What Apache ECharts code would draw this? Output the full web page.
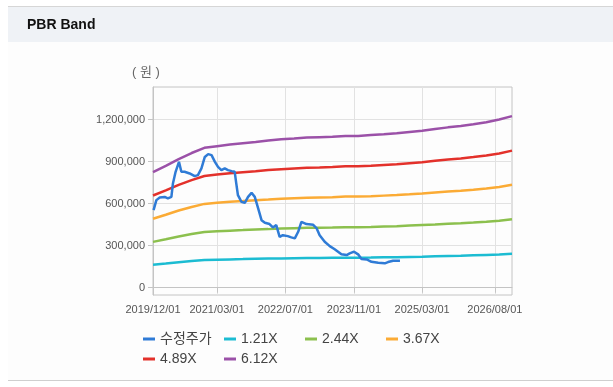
<!DOCTYPE html>
<html><head><meta charset="utf-8">
<script src="https://cdn.jsdelivr.net/npm/echarts@6/dist/echarts.min.js"></script>
<style>
html,body{margin:0;padding:0;background:#fff;width:613px;height:387px;overflow:hidden;}
#panel{position:absolute;left:8px;top:6px;width:605px;height:373px;border-top:1px solid #d6d6d6;border-bottom:1px solid #cfcfcf;background:#fdfdfd;}
#head{position:absolute;left:8px;top:7px;width:605px;height:35px;background:#eff2f6;}
#chart{position:absolute;left:0;top:0;width:613px;height:387px;}
</style></head>
<body>
<div id="panel"></div><div id="head"></div>
<div id="chart"></div>
<script>
const seriesNames = ['수정주가','1.21X','2.44X','3.67X','4.89X','6.12X'];
const xTickLabels = ['2019/12/01','2021/03/01','2022/07/01','2023/11/01','2025/03/01','2026/08/01'];
const yTickValues = [0,300000,600000,900000,1200000];

const bandDates = ['2019-12-01','2020-03-01','2020-06-01','2020-09-01','2020-12-01','2021-03-01','2021-06-01','2021-09-01','2021-12-01','2022-03-01','2022-06-01','2022-09-01','2022-12-01','2023-03-01','2023-06-01','2023-09-01','2023-12-01','2024-03-01','2024-06-01','2024-09-01','2024-12-01','2025-03-01','2025-06-01','2025-09-01','2025-12-01','2026-03-01','2026-06-01','2026-09-01','2026-12-01'];
const band121 = [164000,172000,182000,190000,197000,200000,202000,204000,206000,208000,209000,211000,212000,212000,213000,214000,214000,215000,217000,218000,220000,221000,224000,226000,228000,231000,234000,237000,242000];
const band244 = [327000,346000,366000,383000,398000,403000,407000,411000,415000,418000,422000,425000,427000,428000,429000,432000,432000,434000,437000,439000,443000,447000,451000,456000,460000,465000,471000,478000,488000];
const band367 = [492000,521000,551000,576000,598000,606000,613000,618000,624000,629000,635000,639000,642000,644000,646000,650000,650000,653000,657000,661000,666000,672000,679000,686000,692000,699000,708000,719000,734000];
const band489 = [658000,694000,734000,768000,797000,807000,817000,824000,831000,839000,846000,851000,856000,858000,861000,866000,866000,870000,875000,880000,888000,895000,905000,914000,922000,932000,944000,958000,978000];
const band612 = [824000,869000,918000,961000,998000,1010000,1022000,1031000,1040000,1050000,1059000,1065000,1071000,1074000,1077000,1083000,1083000,1089000,1095000,1102000,1111000,1120000,1132000,1144000,1154000,1166000,1181000,1200000,1224000];

const priceDates = ['2019-12-05','2019-12-25','2020-01-18','2020-02-22','2020-03-16','2020-04-10','2020-04-21','2020-05-10','2020-06-03','2020-06-20','2020-07-13','2020-08-18','2020-09-23','2020-10-16','2020-11-10','2020-12-04','2020-12-28','2021-01-21','2021-02-14','2021-03-08','2021-04-01','2021-04-25','2021-05-18','2021-06-13','2021-07-05','2021-07-16','2021-07-28','2021-08-22','2021-09-15','2021-10-08','2021-11-02','2021-11-25','2021-12-19','2022-01-12','2022-02-05','2022-03-10','2022-04-03','2022-04-27','2022-05-21','2022-06-13','2022-07-18','2022-08-12','2022-09-06','2022-09-30','2022-10-23','2022-11-28','2023-01-15','2023-02-09','2023-03-02','2023-04-07','2023-05-13','2023-06-17','2023-08-04','2023-09-10','2023-10-02','2023-11-02','2023-12-01','2023-12-25','2024-01-31','2024-03-05','2024-04-22','2024-06-08','2024-07-01','2024-08-06','2024-09-24'];
const priceVals = [554000,625000,644000,648000,637000,648000,744000,827000,898000,827000,827000,815000,796000,803000,851000,933000,953000,946000,898000,862000,839000,851000,839000,832000,827000,744000,660000,613000,605000,648000,677000,648000,566000,482000,463000,454000,430000,447000,363000,375000,368000,359000,352000,399000,470000,454000,449000,423000,375000,328000,297000,274000,238000,233000,245000,257000,238000,205000,202000,185000,178000,174000,183000,192000,192000];

const colors = ['#2f7bd6','#1cbcd2','#8cc04e','#fbab35','#e3312b','#9b51a8'];
const FONT = "'Liberation Sans', 'Noto Sans CJK KR', sans-serif";

function toTs(s){ const p = s.split(/[-\/]/).map(Number); return Date.UTC(p[0], p[1]-1, p[2]); }
function pad(n){ return (n<10?'0':'')+n; }
function fmtDate(v){ const d = new Date(v); return d.getUTCFullYear()+'/'+pad(d.getUTCMonth()+1)+'/'+pad(d.getUTCDate()); }
function fmtNum(v){ return String(v).replace(/\B(?=(\d{3})+(?!\d))/g, ','); }
function pairs(dates, vals){ return dates.map((d,i)=>[toTs(d), vals[i]]); }

const bands = [band121, band244, band367, band489, band612];
const series = [];
bands.forEach((b,i)=>{
  series.push({name: seriesNames[i+1], type:'line', data: pairs(bandDates, b), showSymbol:false, symbol:'none',
    lineStyle:{width:2.5, color: colors[i+1]}, itemStyle:{color: colors[i+1]}, z: 2});
});
series.push({name: seriesNames[0], type:'line', data: pairs(priceDates, priceVals), showSymbol:false, symbol:'none',
  lineStyle:{width:2.5, color: colors[0]}, itemStyle:{color: colors[0]}, z: 3});

const xTicks = xTickLabels.map(toTs);
const chart = echarts.init(document.getElementById('chart'), null, {renderer:'canvas'});
chart.setOption({
  animation:false,
  textStyle:{fontFamily: FONT},
  title:[
    {text:'PBR Band', left:27, top:18, padding:0, textStyle:{fontSize:14, fontWeight:'bold', color:'#111', fontFamily: FONT}},
    {text:'( 원 )', left:132, top:66, padding:0, textStyle:{fontSize:13, fontWeight:'normal', color:'#666', fontFamily: FONT}}
  ],
  grid:{left:153, right:101, top:87, bottom:92, show:true, borderColor:'#c4c4c4', borderWidth:1, backgroundColor:'transparent'},
  legend:{
    data: seriesNames, left:143, top:330, width:340, padding:0, icon:'rect', itemWidth:12, itemHeight:3, itemGap:2,
    formatter: n => '{a|' + n + '}',
    textStyle:{fontSize:14, lineHeight:18, color:'#444', fontFamily: FONT, rich:{a:{width:62, height:18, fontSize:14, lineHeight:18, color:'#444', fontFamily: FONT}}}
  },
  xAxis:{
    type:'value', min: toTs('2019/12/01'), max: toTs('2026/12/01'), scale:true,
    axisLine:{show:true, lineStyle:{color:'#c4c4c4'}},
    axisTick:{show:true, customValues: xTicks, length:5, lineStyle:{color:'#c4c4c4'}},
    axisLabel:{customValues: xTicks, formatter: v => fmtDate(v), fontSize:11, color:'#555', margin:9, fontFamily: FONT, hideOverlap:false},
    splitLine:{show:true, lineStyle:{color:'#e2e2e2', width:1}}
  },
  yAxis:{
    type:'value', min:-52000, max:1432000,
    axisLine:{show:true, lineStyle:{color:'#c4c4c4'}},
    axisTick:{show:true, customValues: yTickValues, length:5, lineStyle:{color:'#c4c4c4'}},
    axisLabel:{customValues: yTickValues, formatter: v => fmtNum(v), fontSize:11, color:'#555', margin:8, fontFamily: FONT},
    splitLine:{show:true, lineStyle:{color:'#e2e2e2', width:1}}
  },
  series: series
});
</script>
</body></html>
